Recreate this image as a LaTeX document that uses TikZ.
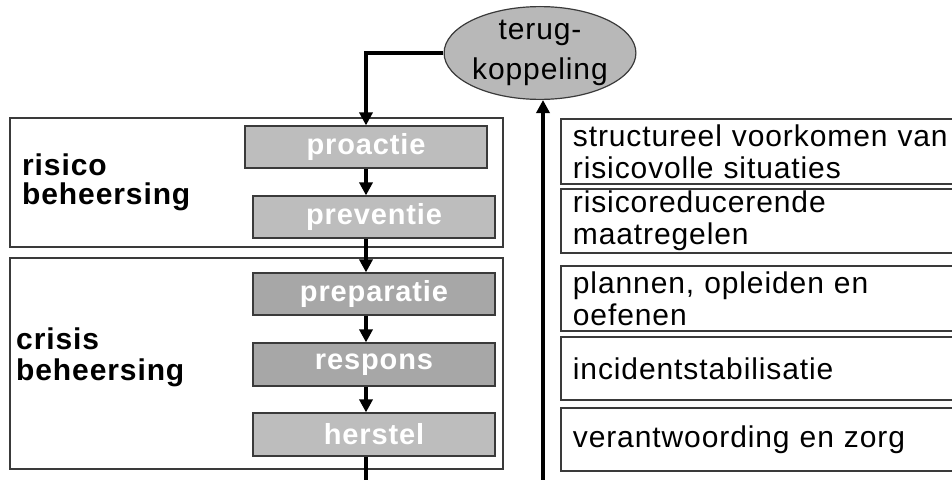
\documentclass[tikz,border=0pt]{standalone}
\usepackage{fontspec}
\setmainfont{Liberation Sans}
\newfontfamily\trackedfont[LetterSpace=3]{Liberation Sans}
\usetikzlibrary{arrows.meta,shapes.geometric}
\definecolor{phaselight}{HTML}{BDBDBD}
\definecolor{phasedark}{HTML}{A7A7A7}
\definecolor{loopfill}{HTML}{B8B8B8}
\definecolor{edgegray}{HTML}{3A3A3A}
\begin{document}
\begin{tikzpicture}[x=1pt,y=-1pt,
  phase/.style={draw=edgegray, line width=1.2pt, minimum width=242pt,
    minimum height=42pt, inner sep=0pt, text=white,
    font=\trackedfont\bfseries\fontsize{29}{30}\selectfont},
  lightphase/.style={phase, fill=phaselight},
  darkphase/.style={phase, fill=phasedark},
  group/.style={draw=edgegray, line width=1.2pt, inner sep=0pt,
    minimum width=493pt},
  grouplabel/.style={anchor=west, inner sep=0pt, align=left},
  taskbox/.style={draw=edgegray, line width=1.8pt, anchor=north west,
    minimum width=430pt, text width=406pt, align=left, inner xsep=12pt,
    inner ysep=0pt, font=\trackedfont\fontsize{30}{32}\selectfont},
  flow/.style={line width=3.6pt, -{Triangle[width=13pt,length=13pt]}}
]
\useasboundingbox (0,0) rectangle (952,479);
\clip (0,0) rectangle (952,479);

% feedback loop
\node[ellipse, draw=edgegray, line width=1.2pt, fill=loopfill,
  minimum width=186pt, minimum height=78pt, inner sep=0pt, align=center,
  font=\trackedfont\fontsize{30}{40}\selectfont] (fb) at (540,53)
  {terug-\\koppeling};

% the two groups
\node[group, minimum height=129pt] (risk) at (256.5,182.5) {};
\node[group, minimum height=211pt] (crisis) at (256.5,363.5) {};
\node[grouplabel, font=\trackedfont\bfseries\fontsize{30}{29}\selectfont]
  (risklabel) at (22,182) {risico\\beheersing};
\node[grouplabel, font=\trackedfont\bfseries\fontsize{30}{31}\selectfont]
  (crisislabel) at (16,357) {crisis\\beheersing};

% the five phases
\node[lightphase] (proactie) at (366,147) {proactie};
\node[lightphase] (preventie) at (374,217) {preventie};
\node[darkphase] (preparatie) at (374,294) {preparatie};
\node[darkphase, minimum height=43pt] (respons) at (374,364.5) {respons};
\node[lightphase, minimum height=43pt] (herstel) at (374,434.5) {herstel};

% descriptions
\node[taskbox, minimum height=65pt] (t1) at (560,118)
  {structureel voorkomen van\\risicovolle situaties};
\node[taskbox, minimum height=64pt] (t2) at (560,188)
  {risicoreducerende\\maatregelen};
\node[taskbox, minimum height=65pt] (t3) at (560,265)
  {plannen, opleiden en\\oefenen};
\node[taskbox, minimum height=63pt] (t4) at (560,336)
  {incidentstabilisatie};
\node[taskbox, minimum height=63pt] (t5) at (560,407)
  {verantwoording en zorg};

% connectors
\coordinate (spine) at (366,0);
\coordinate (exit) at (366,490);
\coordinate (entry) at (543,490);
\draw[flow] (fb.west) -| (proactie.north);
\draw[flow] (proactie.south) -- (spine |- preventie.north);
\draw[flow] (spine |- preventie.south) -- (spine |- preparatie.north);
\draw[flow] (spine |- preparatie.south) -- (spine |- respons.north);
\draw[flow] (spine |- respons.south) -- (spine |- herstel.north);
\draw[line width=3.6pt] (spine |- herstel.south) -- (exit);
\draw[flow] (entry) -- (entry |- fb.south);
\end{tikzpicture}
\end{document}
